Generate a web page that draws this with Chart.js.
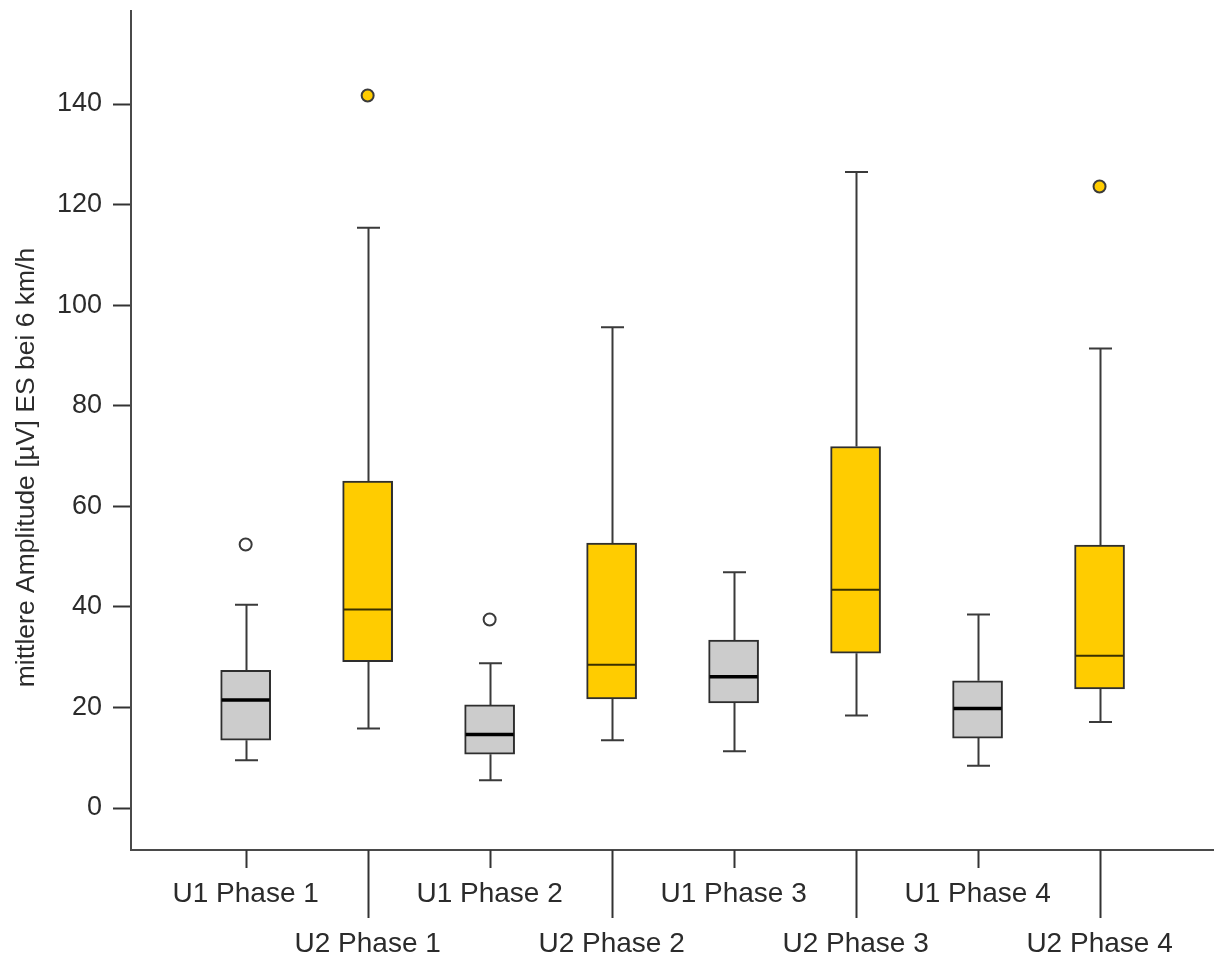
<!DOCTYPE html>
<html>
<head>
<meta charset="utf-8">
<title>mittlere Amplitude ES bei 6 km/h</title>
<script src="https://cdn.jsdelivr.net/npm/chart.js@4/dist/chart.umd.min.js"></script>
<style>
  html, body { margin: 0; padding: 0; background: #ffffff; }
  #wrap { position: relative; width: 1216px; height: 957px; }
</style>
</head>
<body>
<div id="wrap"><canvas id="chart" width="1216" height="957"></canvas></div>
<script>
// Groups along the x axis
const categories = ['U1 Phase 1', 'U2 Phase 1', 'U1 Phase 2', 'U2 Phase 2',
                    'U1 Phase 3', 'U2 Phase 3', 'U1 Phase 4', 'U2 Phase 4'];

// Five-number summaries per group (µV)
const whiskerLow  = [9.5, 15.8, 5.5, 13.5, 11.3, 18.4, 8.4, 17.1];
const quartile1   = [13.5, 29.1, 10.7, 21.7, 20.9, 30.8, 13.9, 23.7];
const medians     = [21.5, 39.5, 14.6, 28.5, 26.1, 43.4, 19.8, 30.3];
const quartile3   = [27.4, 65.0, 20.5, 52.7, 33.4, 71.9, 25.3, 52.3];
const whiskerHigh = [40.4, 115.4, 28.8, 95.6, 46.9, 126.5, 38.5, 91.4];

// Values beyond the whiskers
const outliers = [[52.4], [141.7], [37.5], [], [], [], [], [123.6]];

// Value axis tick labels
const yTicks = [0, 20, 40, 60, 80, 100, 120, 140];

const FONT = "'Liberation Sans', Arial, Helvetica, sans-serif";
const TEXT = '#2b2b2b';
const GRAY = '#cccccc';
const YELLOW = '#ffcc00';
const isU2 = i => i % 2 === 1;

const boxData = categories.map((c, i) => ({ x: i, y: [quartile1[i], quartile3[i]] }));
const outlierData = [];
const outlierFill = [];
outliers.forEach((list, i) => list.forEach(v => {
  outlierData.push({ x: i, y: v });
  outlierFill.push(isU2(i) ? YELLOW : '#ffffff');
}));

// Whiskers behind the boxes, medians on top, custom x tick marks and y title
const boxPlotParts = {
  id: 'boxPlotParts',
  beforeDatasetsDraw(chart) {
    const { ctx, scales: { x, y } } = chart;
    const capHalf = 11.5;
    ctx.save();
    ctx.strokeStyle = '#3a3a3a';
    ctx.lineWidth = 2;
    ctx.lineCap = 'butt';
    categories.forEach((c, i) => {
      const px = Math.round(x.getPixelForValue(i)) + 0.5;
      const yLo = y.getPixelForValue(whiskerLow[i]);
      const yQ1 = y.getPixelForValue(quartile1[i]);
      const yQ3 = y.getPixelForValue(quartile3[i]);
      const yHi = y.getPixelForValue(whiskerHigh[i]);
      ctx.beginPath();
      ctx.moveTo(px, yLo); ctx.lineTo(px, yQ1);
      ctx.moveTo(px, yQ3); ctx.lineTo(px, yHi);
      ctx.moveTo(px - capHalf, yLo); ctx.lineTo(px + capHalf, yLo);
      ctx.moveTo(px - capHalf, yHi); ctx.lineTo(px + capHalf, yHi);
      ctx.stroke();
    });
    ctx.restore();
  },
  afterDatasetsDraw(chart) {
    const { ctx, scales: { x, y } } = chart;
    const half = 24;
    ctx.save();
    categories.forEach((c, i) => {
      const px = x.getPixelForValue(i);
      const py = y.getPixelForValue(medians[i]);
      ctx.beginPath();
      ctx.strokeStyle = isU2(i) ? '#3a3000' : '#000000';
      ctx.lineWidth = isU2(i) ? 2 : 3.5;
      ctx.moveTo(px - half, py); ctx.lineTo(px + half, py);
      ctx.stroke();
    });
    ctx.restore();
  },
  afterDraw(chart) {
    const { ctx, scales: { x } } = chart;
    ctx.save();
    // category tick marks below the x axis, longer for the second row of labels
    ctx.strokeStyle = '#333333';
    ctx.lineWidth = 2;
    categories.forEach((c, i) => {
      const px = Math.round(x.getPixelForValue(i)) + 0.5;
      ctx.beginPath();
      ctx.moveTo(px, x.top);
      ctx.lineTo(px, x.top + (isU2(i) ? 68 : 18));
      ctx.stroke();
    });
    // value axis title
    ctx.translate(33.5, 467.5);
    ctx.rotate(-Math.PI / 2);
    ctx.fillStyle = TEXT;
    ctx.font = `26.5px ${FONT}`;
    ctx.textAlign = 'center';
    ctx.textBaseline = 'alphabetic';
    ctx.fillText('mittlere Amplitude [µV] ES bei 6 km/h', 0, 0);
    ctx.restore();
  }
};

new Chart(document.getElementById('chart'), {
  type: 'bar',
  data: {
    datasets: [
      {
        type: 'bar',
        data: boxData,
        backgroundColor: categories.map((c, i) => isU2(i) ? YELLOW : GRAY),
        borderColor: '#2e2e2e',
        borderWidth: 2,
        borderSkipped: false,
        barThickness: 50,
        grouped: false,
        order: 2
      },
      {
        type: 'scatter',
        data: outlierData,
        pointRadius: 6,
        pointBorderWidth: 2,
        pointBackgroundColor: outlierFill,
        pointBorderColor: '#3a3a3a',
        order: 1
      }
    ]
  },
  options: {
    responsive: false,
    animation: false,
    events: [],
    layout: { padding: { top: 11, right: 3, left: 0, bottom: 0 }, autoPadding: false },
    plugins: { legend: { display: false }, tooltip: { enabled: false } },
    scales: {
      x: {
        type: 'linear',
        offset: false,
        min: -0.94,
        max: 7.93,
        grid: { display: false, drawTicks: false, offset: false },
        border: { display: true, color: '#4a4a4a', width: 2 },
        ticks: {
          stepSize: 1,
          includeBounds: false,
          autoSkip: false,
          maxRotation: 0,
          minRotation: 0,
          padding: 19,
          color: TEXT,
          font: { family: FONT, size: 28, lineHeight: 1.786 },
          callback: v => Number.isInteger(v) && categories[v] !== undefined
            ? (isU2(v) ? ['', categories[v]] : categories[v]) : ''
        },
        afterFit: s => { s.height = 107; s.paddingLeft = 0; s.paddingRight = 0; }
      },
      y: {
        type: 'linear',
        min: -8.35,
        max: 158.5,
        grid: { display: true, drawOnChartArea: false, drawTicks: true, tickLength: 18, tickColor: '#333333', tickWidth: 2 },
        border: { display: true, color: '#4a4a4a', width: 2 },
        ticks: {
          stepSize: 20,
          includeBounds: false,
          padding: 11,
          color: TEXT,
          font: { family: FONT, size: 27 },
          callback: v => yTicks.includes(v) ? String(v) : ''
        },
        afterFit: s => { s.width = 131; s.paddingTop = 0; s.paddingBottom = 0; }
      }
    }
  },
  plugins: [boxPlotParts]
});
</script>
</body>
</html>
